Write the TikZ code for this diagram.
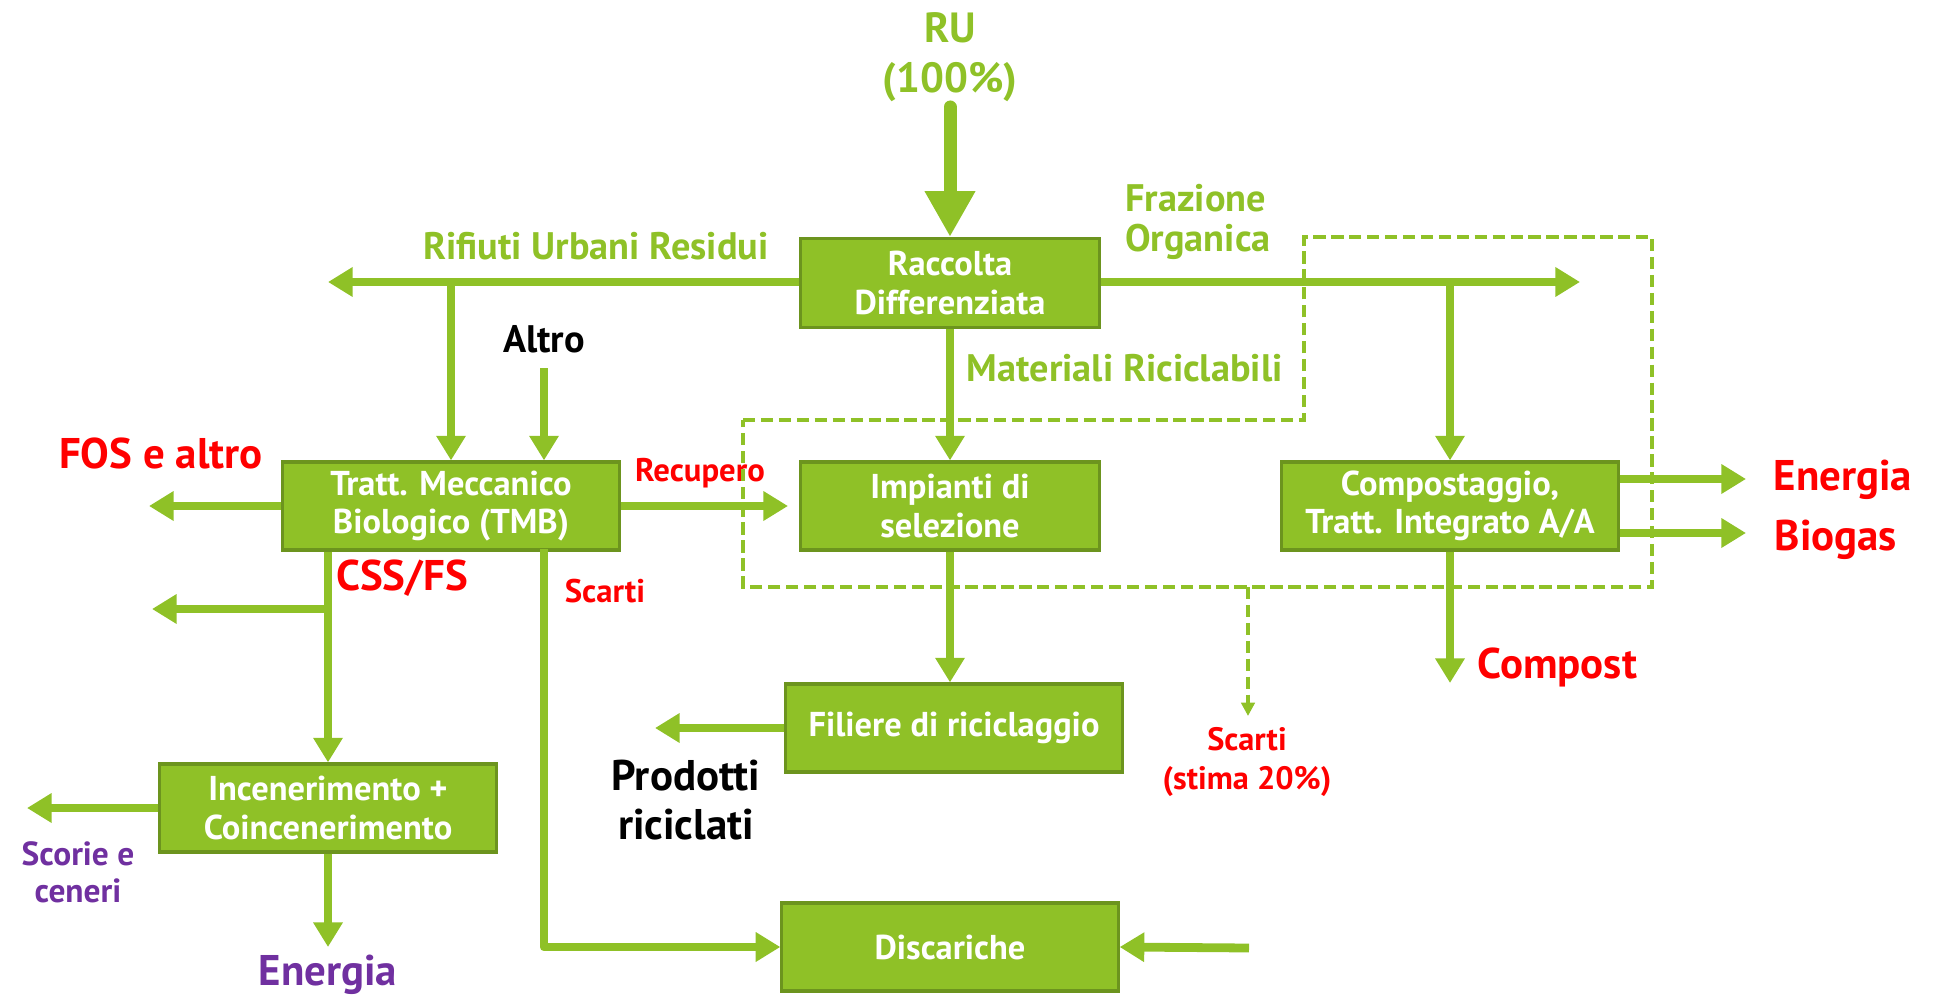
\documentclass[tikz,border=0pt]{standalone}
\usepackage{fontspec}
\setmainfont{PT Sans}
\usetikzlibrary{arrows.meta,positioning}
\definecolor{verde}{RGB}{143,193,39}
\definecolor{verdescuro}{RGB}{108,148,30}
\definecolor{rosso}{RGB}{255,0,0}
\definecolor{viola}{RGB}{112,48,160}

\begin{document}
\begin{tikzpicture}[x=0.01cm,y=-0.01cm,
    blocco/.style={draw=verdescuro,line width=0.9pt,fill=verde,text=white,align=center,
      font=\bfseries\fontsize{9.8}{11}\selectfont,minimum width=3.36cm,minimum height=0.88cm,inner sep=0pt},
    flusso/.style={verde,line width=2.5pt,-{Triangle[length=7pt,width=8pt]}},
    flussogrande/.style={verde,line width=3.7pt,line cap=round,-{Triangle[length=13pt,width=13.5pt]}},
    tratteggio/.style={verde,line width=1.1pt,dash pattern=on 3.5pt off 1.6pt},
    grande/.style={font=\bfseries\fontsize{12.2}{14}\selectfont,align=center,inner sep=0pt},
    medio/.style={font=\bfseries\fontsize{10.9}{11.5}\selectfont,align=center,inner sep=0pt},
    piccolo/.style={font=\bfseries\fontsize{9.3}{10.6}\selectfont,align=center,inner sep=0pt}]
  \useasboundingbox (0,0) rectangle (1948,997);

  % Blocchi
  \node[blocco,minimum width=2.99cm,minimum height=0.89cm] (racc) at (950,283) {Raccolta\\Differenziata};
  \node[blocco] (tmb) at (451,506) {Tratt. Meccanico\\Biologico (TMB)};
  \node[blocco,minimum width=2.99cm] (imp) at (950,506) {Impianti di\\selezione};
  \node[blocco] (comp) at (1450,506) {Compostaggio,\\Tratt. Integrato A/A};
  \node[blocco] (fil) at (954,728) {Filiere di riciclaggio};
  \node[blocco] (inc) at (328,808) {Incenerimento +\\Coincenerimento};
  \node[blocco] (disc) at (950,947) {Discariche};

  % Etichette
  \node[grande,verde,font=\bfseries\fontsize{12}{14.2}\selectfont] (ru) at (950,57) {RU\\(100\%)};
  \node[medio,verde] (rur) at (596,246) {Rifiuti Urbani Residui};
  \node[medio,verde,align=left] (fraz) at (1198,222) {Frazione\\Organica};
  \node[medio,verde,anchor=west] (matric) at (966,368) {Materiali Riciclabili};
  \node[medio] (altro) at (544,339) {Altro};
  \node[grande,rosso] (fos) at (161,453) {FOS e altro};
  \node[piccolo,rosso] (recup) at (700,473) {Recupero};
  \node[grande,rosso] (css) at (402,578) {CSS/FS};
  \node[piccolo,rosso] (scarti) at (605,591) {Scarti};
  \node[piccolo,viola,font=\bfseries\fontsize{9.5}{10.6}\selectfont] (scorie) at (78,872) {Scorie e\\ceneri};
  \node[grande,viola] (energia) at (328,975) {Energia};
  \node[grande] (prod) at (686,800) {Prodotti\\riciclati};
  \node[grande,rosso,anchor=west] (energiab) at (1773,480) {Energia};
  \node[grande,rosso,anchor=west] (biogas) at (1774,540) {Biogas};
  \node[grande,rosso,anchor=west] (compost) at (1477,667) {Compost};
  \node[piccolo,rosso,font=\bfseries\fontsize{9.2}{10.9}\selectfont] (scarti20) at (1247,762) {Scarti\\(stima 20\%)};

  % Punti liberi
  \coordinate (ruinizio) at (950,107);
  \coordinate (rurfine) at (328,282);
  \coordinate (rurnodo) at (451,282);
  \coordinate (altroinizio) at (544,368);
  \coordinate (frazfine) at (1580,282);
  \coordinate (fraznodo) at (1450,282);
  \coordinate (recfine) at (788,506);
  \coordinate (fosfine) at (149,506);
  \coordinate (cssnodo) at (328,609);
  \coordinate (cssfine) at (152,609);
  \coordinate (scartiinizio) at (544,549);
  \coordinate (scoriefine) at (27,808);
  \coordinate (energiafine) at (328,947);
  \coordinate (prodfine) at (655,728);
  \coordinate (energiafr) at (1746,479);
  \coordinate (biogasfr) at (1746,533);
  \coordinate (compostfine) at (1450,683);
  \coordinate (discinizio) at (1249,948);
  \coordinate (sc20inizio) at (1248,587);
  \coordinate (sc20fine) at (1248,716);

  % Zona tratteggiata
  \draw[tratteggio] (743,420) -- (1304,420) -- (1304,237) -- (1652,237) -- (1652,587) -- (743,587) -- cycle;

  % Flussi
  \draw[flussogrande] (ruinizio) -- (racc.north);
  \draw[flusso] (racc.west |- rurfine) -- (rurfine);
  \draw[flusso] (rurnodo) -- (tmb.north);
  \draw[flusso] (altroinizio) -- (altroinizio |- tmb.north);
  \draw[flusso] (racc.east |- frazfine) -- (frazfine);
  \draw[flusso] (fraznodo) -- (comp.north);
  \draw[flusso] (racc.south) -- (imp.north);
  \draw[flusso] (tmb.east) -- (recfine);
  \draw[flusso] (tmb.west) -- (fosfine);
  \draw[flusso] (inc.north |- tmb.south) -- (inc.north);
  \draw[flusso] (cssnodo) -- (cssfine);
  \draw[flusso,line join=round] (scartiinizio) |- (disc.west);
  \draw[flusso] (inc.west) -- (scoriefine);
  \draw[flusso] (inc.south) -- (energiafine);
  \draw[flusso] (imp.south) -- (imp.south |- fil.north);
  \draw[flusso] (fil.west) -- (prodfine);
  \draw[flusso] (energiafr -| comp.east) -- (energiafr);
  \draw[flusso] (biogasfr -| comp.east) -- (biogasfr);
  \draw[flusso] (comp.south) -- (compostfine);
  \draw[flusso] (discinizio) -- (disc.east);
  \draw[tratteggio,-{Triangle[length=3.8pt,width=3.8pt]}] (sc20inizio) -- (sc20fine);
\end{tikzpicture}
\end{document}
